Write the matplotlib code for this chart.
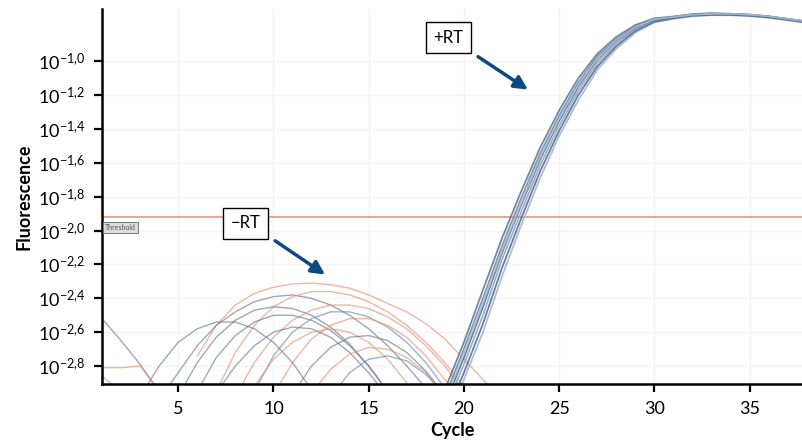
#!/usr/bin/env python3
"""
qPCR amplification plot: +RT vs -RT reactions (log fluorescence vs cycle).
"""

import numpy as np
import matplotlib.pyplot as plt
from matplotlib.ticker import FixedLocator, FuncFormatter, NullLocator

plt.rcParams['font.family'] = ['Lato', 'DejaVu Sans']
plt.rcParams['mathtext.fontset'] = 'custom'
plt.rcParams['mathtext.rm'] = 'Lato'
plt.rcParams['mathtext.it'] = 'Lato:italic'
plt.rcParams['mathtext.bf'] = 'Lato:bold'

# log10(fluorescence) per cycle, +RT samples (cycles 18..38)
PLUS_CYCLES = np.arange(18, 39)
PLUS_RT = [
    [-3.22, -2.94, -2.66, -2.35, -2.045, -1.77, -1.51, -1.29, -1.10, -0.955, -0.855,
     -0.785, -0.745, -0.735, -0.72, -0.715, -0.72, -0.725, -0.735, -0.75, -0.765],
    [-3.34, -3.06, -2.79, -2.50, -2.17, -1.89, -1.615, -1.38, -1.175, -1.01, -0.895,
     -0.81, -0.757, -0.742, -0.728, -0.722, -0.722, -0.727, -0.737, -0.752, -0.767],
    [-3.30, -3.02, -2.75, -2.45, -2.13, -1.85, -1.58, -1.35, -1.15, -0.99, -0.88,
     -0.80, -0.75, -0.74, -0.725, -0.72, -0.72, -0.725, -0.735, -0.75, -0.765],
    [-3.42, -3.14, -2.88, -2.60, -2.27, -1.97, -1.69, -1.44, -1.23, -1.05, -0.925,
     -0.83, -0.77, -0.748, -0.733, -0.727, -0.727, -0.732, -0.742, -0.757, -0.772],
    [-3.26, -2.98, -2.70, -2.40, -2.09, -1.81, -1.545, -1.32, -1.125, -0.97, -0.87,
     -0.79, -0.748, -0.737, -0.722, -0.717, -0.718, -0.723, -0.733, -0.748, -0.763],
    [-3.38, -3.10, -2.84, -2.55, -2.22, -1.93, -1.65, -1.41, -1.20, -1.03, -0.91,
     -0.82, -0.765, -0.745, -0.73, -0.725, -0.725, -0.73, -0.74, -0.755, -0.77],
    [-3.29, -3.01, -2.73, -2.43, -2.12, -1.84, -1.57, -1.34, -1.14, -0.985, -0.877,
     -0.797, -0.75, -0.738, -0.724, -0.719, -0.719, -0.724, -0.734, -0.749, -0.764],
]

# -RT samples: first cycle, colour group, log10 values per cycle
MINUS_START = [6, 4, 7, 5, 8, 6, 9, 10, 7, 9, 11, 3, 12, 13, 1, 1, 1]
MINUS_GROUP = ['o', 'g', 'o', 'g', 'o', 'g', 'b', 'o', 'g', 'o', 'g', 'g', 'o', 'b',
               'g', 'o', 'o']
MINUS_RT = [
    [-2.74, -2.56, -2.44, -2.37, -2.335, -2.315, -2.31, -2.32, -2.34, -2.38, -2.43,
     -2.48, -2.55, -2.64, -2.76, -2.88, -3.0],
    [-3.0, -2.84, -2.68, -2.56, -2.48, -2.42, -2.39, -2.38, -2.40, -2.44, -2.50,
     -2.58, -2.68, -2.80, -2.93],
    [-2.95, -2.72, -2.56, -2.45, -2.39, -2.36, -2.36, -2.38, -2.42, -2.48, -2.56,
     -2.66, -2.78, -2.92],
    [-2.98, -2.78, -2.63, -2.53, -2.47, -2.45, -2.46, -2.50, -2.57, -2.67, -2.80, -2.95],
    [-2.98, -2.78, -2.63, -2.53, -2.47, -2.44, -2.44, -2.46, -2.51, -2.58, -2.68,
     -2.80, -2.95],
    [-2.95, -2.75, -2.62, -2.54, -2.50, -2.50, -2.53, -2.59, -2.68, -2.80, -2.95],
    [-2.95, -2.74, -2.60, -2.52, -2.48, -2.48, -2.51, -2.57, -2.66, -2.78, -2.93],
    [-2.97, -2.78, -2.64, -2.56, -2.52, -2.52, -2.56, -2.63, -2.74, -2.88, -3.0],
    [-2.96, -2.80, -2.68, -2.60, -2.57, -2.58, -2.63, -2.72, -2.84, -2.98],
    [-2.92, -2.76, -2.66, -2.60, -2.58, -2.60, -2.66, -2.76, -2.90],
    [-2.97, -2.80, -2.69, -2.63, -2.62, -2.65, -2.72, -2.83, -2.97],
    [-2.98, -2.80, -2.66, -2.58, -2.54, -2.54, -2.58, -2.66, -2.78, -2.94],
    [-2.96, -2.82, -2.73, -2.69, -2.70, -2.75, -2.84, -2.97],
    [-2.98, -2.84, -2.76, -2.74, -2.77, -2.85, -2.97],
    [-2.52, -2.65, -2.79, -2.95],
    [-2.81, -2.81, -2.80, -2.95],
    [-2.86, -2.95],
]

THRESHOLD = -1.92
Y_TICKS = [-1.0, -1.2, -1.4, -1.6, -1.8, -2.0, -2.2, -2.4, -2.6, -2.8]
X_TICKS = [5, 10, 15, 20, 25, 30, 35]

COLORS = {'o': '#e58f72', 'g': '#6f7a8a', 'b': '#6a8cb3'}
ARROW = '#0c4a86'

fig = plt.figure(figsize=(8.03, 4.48), dpi=100)
ax = fig.add_axes([0.127, 0.143, 0.873, 0.837])

for start, grp, vals in zip(MINUS_START, MINUS_GROUP, MINUS_RT):
    cyc = np.arange(start, start + len(vals))
    ax.plot(cyc, 10.0 ** np.array(vals), color=COLORS[grp], lw=1.0, alpha=0.65)

plus_cols = ['#5a7393', '#8ca3bf', '#3f5e84', '#9fb3cb', '#6d86a6', '#4c6890', '#a9bcd2']
for vals, c in zip(PLUS_RT, plus_cols):
    ax.plot(PLUS_CYCLES, 10.0 ** np.array(vals), color=c, lw=1.3, alpha=0.85)

ax.axhline(10 ** THRESHOLD, color='#e58f72', lw=1.1, zorder=1)
ax.annotate('Threshold', xy=(0.002, 10 ** THRESHOLD), xycoords=('axes fraction', 'data'),
            xytext=(1, -5), textcoords='offset points', fontsize=5, color='#555555',
            va='top', ha='left',
            bbox=dict(boxstyle='square,pad=0.3', fc='#dddddd', ec='#777777', lw=0.7))

ax.set_yscale('log')
ax.set_xlim(1, 37.8)
ax.set_ylim(10 ** -2.906, 10 ** -0.69)

ax.yaxis.set_major_locator(FixedLocator([10 ** v for v in Y_TICKS]))
ax.yaxis.set_minor_locator(NullLocator())
ax.yaxis.set_major_formatter(FuncFormatter(
    lambda v, pos: r'$\mathregular{10^{%s}}$' % ('%.1f' % np.log10(v)).replace('.', '{,}')))
ax.set_xticks(X_TICKS)

ax.grid(True, color='#f4f4f4', lw=1.0, zorder=0)
ax.set_axisbelow(True)

for s in ['top', 'right']:
    ax.spines[s].set_visible(False)
for s in ['left', 'bottom']:
    ax.spines[s].set_linewidth(1.8)
ax.tick_params(direction='out', length=6, width=1.6, labelsize=13, pad=6)

ax.set_xlabel('Cycle', fontsize=13, fontweight='bold', labelpad=4)
ax.set_ylabel('Fluorescence', fontsize=13, fontweight='bold', labelpad=4)

# labelled arrows
box = dict(boxstyle='square,pad=0.45', fc='white', ec='black', lw=1.0)
ax.text(19.17, 10 ** -0.861, '+RT', fontsize=12, ha='center', va='center', bbox=box)
ax.annotate('', xy=(23.36, 10 ** -1.167), xytext=(20.74, 10 ** -0.972),
            arrowprops=dict(arrowstyle='-|>', lw=2.5, color=ARROW, mutation_scale=20,
                            shrinkA=0, shrinkB=0))
ax.text(8.52, 10 ** -1.956, '\u2212RT', fontsize=12, ha='center', va='center', bbox=box)
ax.annotate('', xy=(12.71, 10 ** -2.26), xytext=(10.09, 10 ** -2.06),
            arrowprops=dict(arrowstyle='-|>', lw=2.5, color=ARROW, mutation_scale=20,
                            shrinkA=0, shrinkB=0))

fig.savefig('out.png', dpi=100)
